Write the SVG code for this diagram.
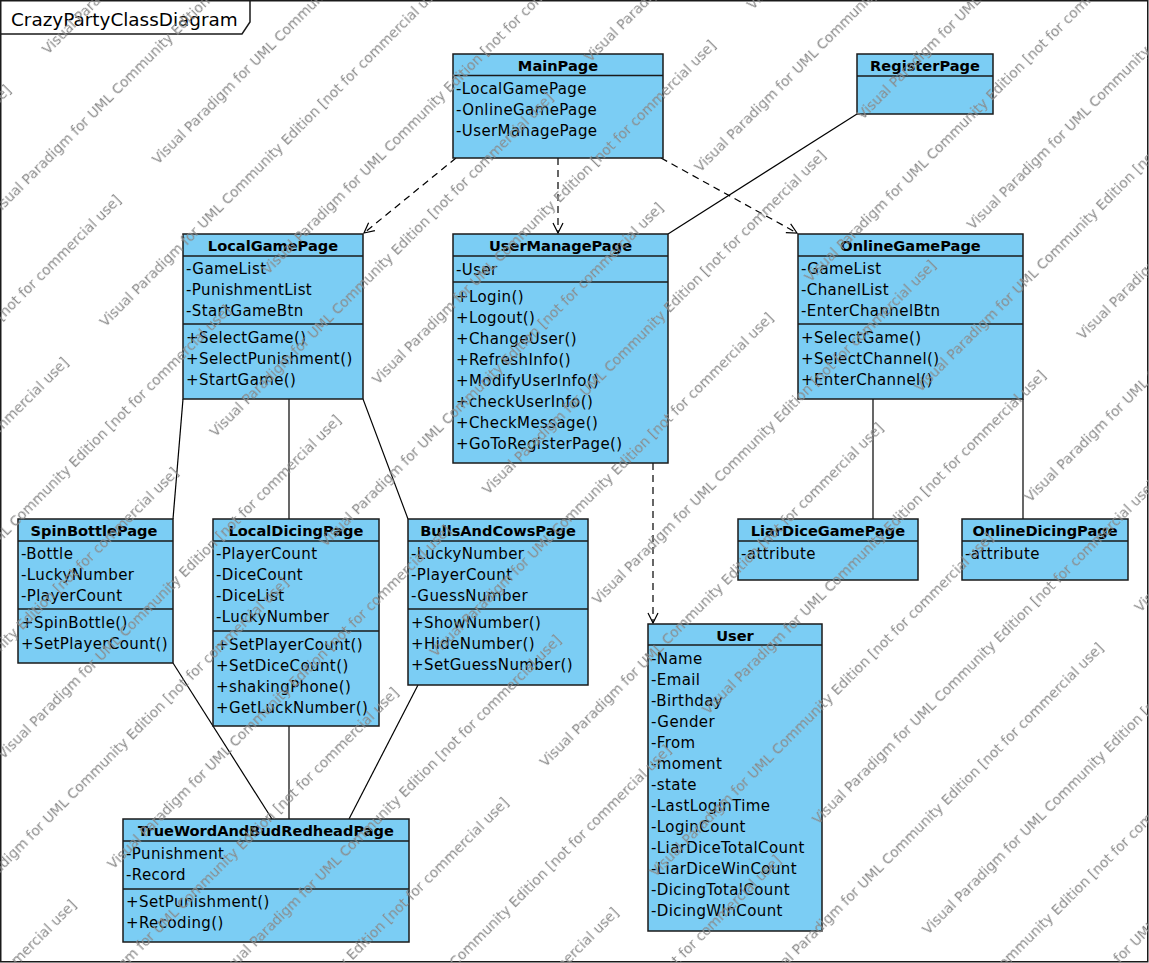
<svg xmlns="http://www.w3.org/2000/svg" width="1149" height="963" viewBox="0 0 1149 963">
<style>
.box{fill:#7bcdf4;stroke:#1a1a1a;stroke-width:1.5}
.sep{stroke:#1a1a1a;stroke-width:1.5}
.hd{font-family:"DejaVu Sans",sans-serif;font-weight:bold;font-size:14.6px;text-anchor:middle;fill:#000}
.tx{font-family:"DejaVu Sans",sans-serif;font-size:15px;letter-spacing:0.4px;fill:#000}
.ln{stroke:#000;stroke-width:1.2;fill:none}
.dash{stroke-dasharray:7 5}
.wm{font-family:"DejaVu Sans",sans-serif;font-size:13.8px;fill:#8a8a8a}
</style>
<defs>
<marker id="open" viewBox="0 0 12 12" refX="11" refY="6" markerWidth="12" markerHeight="12" markerUnits="userSpaceOnUse" orient="auto">
<path d="M1,1 L11,6 L1,11" fill="none" stroke="#000" stroke-width="1.2"/>
</marker>
<pattern id="wmp" patternUnits="userSpaceOnUse" x="-9" y="27.8" width="530" height="155.6" patternTransform="rotate(-45)">
<text class="wm" x="4" y="45">Visual Paradigm for UML Community Edition [not for commercial use]</text>
<text class="wm" x="-148" y="122.8">Visual Paradigm for UML Community Edition [not for commercial use]</text>
<text class="wm" x="382" y="122.8">Visual Paradigm for UML Community Edition [not for commercial use]</text>
</pattern>
</defs>
<rect x="0" y="0" width="1149" height="963" fill="#fff"/>
<g id="frame">
<rect x="0.75" y="0.75" width="1147" height="961" fill="none" stroke="#1a1a1a" stroke-width="1.5"/>
<path d="M0.75,0.75 H250 V22 L242,34 H0.75 Z" fill="#fff" stroke="#1a1a1a" stroke-width="1.5"/>
<text x="11" y="26" style="font-family:'DejaVu Sans',sans-serif;font-size:18.4px;fill:#000">CrazyPartyClassDiagram</text>
</g>
<g id="connectors">
<line class="ln dash" x1="456" y1="158" x2="364" y2="233" marker-end="url(#open)"/>
<line class="ln dash" x1="558" y1="158" x2="558" y2="233" marker-end="url(#open)"/>
<line class="ln dash" x1="661" y1="158" x2="797" y2="233" marker-end="url(#open)"/>
<line class="ln dash" x1="653" y1="463" x2="653" y2="623" marker-end="url(#open)"/>
<line class="ln" x1="857" y1="114" x2="668" y2="234"/>
<line class="ln" x1="183" y1="399" x2="173" y2="519"/>
<line class="ln" x1="289" y1="399" x2="289" y2="519"/>
<line class="ln" x1="363" y1="399" x2="408" y2="519"/>
<line class="ln" x1="873" y1="399" x2="873" y2="519"/>
<line class="ln" x1="1023" y1="399" x2="1023" y2="519"/>
<line class="ln" x1="173" y1="663" x2="272" y2="819"/>
<line class="ln" x1="289" y1="726" x2="289" y2="819"/>
<line class="ln" x1="418" y1="685" x2="349" y2="819"/>
</g>
<g id="MainPage">
<rect class="box" x="453" y="54" width="210" height="104"/>
<line class="sep" x1="453" y1="75.5" x2="663" y2="75.5"/>
<text class="hd" x="558" y="71">MainPage</text>
<text class="tx" x="456" y="94">-LocalGamePage</text>
<text class="tx" x="456" y="115">-OnlineGamePage</text>
<text class="tx" x="456" y="136">-UserManagePage</text>
</g>
<g id="RegisterPage">
<rect class="box" x="857" y="54" width="136" height="60"/>
<line class="sep" x1="857" y1="76" x2="993" y2="76"/>
<text class="hd" x="925" y="71">RegisterPage</text>
</g>
<g id="LocalGamePage">
<rect class="box" x="183" y="234" width="180" height="165"/>
<line class="sep" x1="183" y1="256" x2="363" y2="256"/>
<line class="sep" x1="183" y1="324" x2="363" y2="324"/>
<text class="hd" x="273" y="251">LocalGamePage</text>
<text class="tx" x="186" y="274">-GameList</text>
<text class="tx" x="186" y="295">-PunishmentList</text>
<text class="tx" x="186" y="316">-StartGameBtn</text>
<text class="tx" x="186" y="343">+SelectGame()</text>
<text class="tx" x="186" y="364">+SelectPunishment()</text>
<text class="tx" x="186" y="385">+StartGame()</text>
</g>
<g id="UserManagePage">
<rect class="box" x="453" y="234" width="215" height="229"/>
<line class="sep" x1="453" y1="256" x2="668" y2="256"/>
<line class="sep" x1="453" y1="282" x2="668" y2="282"/>
<text class="hd" x="560.5" y="251">UserManagePage</text>
<text class="tx" x="456" y="275">-User</text>
<text class="tx" x="456" y="302">+Login()</text>
<text class="tx" x="456" y="323">+Logout()</text>
<text class="tx" x="456" y="344">+ChangeUser()</text>
<text class="tx" x="456" y="365">+RefreshInfo()</text>
<text class="tx" x="456" y="386">+ModifyUserInfo()</text>
<text class="tx" x="456" y="407">+checkUserInfo()</text>
<text class="tx" x="456" y="428">+CheckMessage()</text>
<text class="tx" x="456" y="449">+GoToRegisterPage()</text>
</g>
<g id="OnlineGamePage">
<rect class="box" x="798" y="234" width="225" height="165"/>
<line class="sep" x1="798" y1="256" x2="1023" y2="256"/>
<line class="sep" x1="798" y1="324" x2="1023" y2="324"/>
<text class="hd" x="910.5" y="251">OnlineGamePage</text>
<text class="tx" x="801" y="274">-GameList</text>
<text class="tx" x="801" y="295">-ChanelList</text>
<text class="tx" x="801" y="316">-EnterChannelBtn</text>
<text class="tx" x="801" y="343">+SelectGame()</text>
<text class="tx" x="801" y="364">+SelectChannel()</text>
<text class="tx" x="801" y="385">+EnterChannel()</text>
</g>
<g id="SpinBottlePage">
<rect class="box" x="18" y="519" width="155" height="144"/>
<line class="sep" x1="18" y1="541" x2="173" y2="541"/>
<line class="sep" x1="18" y1="609" x2="173" y2="609"/>
<text class="hd" x="94" y="536">SpinBottlePage</text>
<text class="tx" x="21" y="559">-Bottle</text>
<text class="tx" x="21" y="580">-LuckyNumber</text>
<text class="tx" x="21" y="601">-PlayerCount</text>
<text class="tx" x="21" y="628">+SpinBottle()</text>
<text class="tx" x="21" y="649">+SetPlayerCount()</text>
</g>
<g id="LocalDicingPage">
<rect class="box" x="213" y="519" width="166" height="207"/>
<line class="sep" x1="213" y1="541" x2="379" y2="541"/>
<line class="sep" x1="213" y1="631" x2="379" y2="631"/>
<text class="hd" x="296" y="536">LocalDicingPage</text>
<text class="tx" x="216" y="559">-PlayerCount</text>
<text class="tx" x="216" y="580">-DiceCount</text>
<text class="tx" x="216" y="601">-DiceList</text>
<text class="tx" x="216" y="622">-LuckyNumber</text>
<text class="tx" x="216" y="650">+SetPlayerCount()</text>
<text class="tx" x="216" y="671">+SetDiceCount()</text>
<text class="tx" x="216" y="692">+shakingPhone()</text>
<text class="tx" x="216" y="713">+GetLuckNumber()</text>
</g>
<g id="BullsAndCowsPage">
<rect class="box" x="408" y="519" width="180" height="166"/>
<line class="sep" x1="408" y1="541" x2="588" y2="541"/>
<line class="sep" x1="408" y1="609" x2="588" y2="609"/>
<text class="hd" x="498" y="536">BullsAndCowsPage</text>
<text class="tx" x="411" y="559">-LuckyNumber</text>
<text class="tx" x="411" y="580">-PlayerCount</text>
<text class="tx" x="411" y="601">-GuessNumber</text>
<text class="tx" x="411" y="628">+ShowNumber()</text>
<text class="tx" x="411" y="649">+HideNumber()</text>
<text class="tx" x="411" y="670">+SetGuessNumber()</text>
</g>
<g id="LiarDiceGamePage">
<rect class="box" x="738" y="519" width="180" height="61"/>
<line class="sep" x1="738" y1="541" x2="918" y2="541"/>
<text class="hd" x="828" y="536">LiarDiceGamePage</text>
<text class="tx" x="741" y="559">-attribute</text>
</g>
<g id="OnlineDicingPage">
<rect class="box" x="962" y="519" width="166" height="61"/>
<line class="sep" x1="962" y1="541" x2="1128" y2="541"/>
<text class="hd" x="1045" y="536">OnlineDicingPage</text>
<text class="tx" x="965" y="559">-attribute</text>
</g>
<g id="User">
<rect class="box" x="648" y="624" width="174" height="307"/>
<line class="sep" x1="648" y1="645" x2="822" y2="645"/>
<text class="hd" x="735" y="641">User</text>
<text class="tx" x="651" y="664">-Name</text>
<text class="tx" x="651" y="685">-Email</text>
<text class="tx" x="651" y="706">-Birthday</text>
<text class="tx" x="651" y="727">-Gender</text>
<text class="tx" x="651" y="748">-From</text>
<text class="tx" x="651" y="769">-moment</text>
<text class="tx" x="651" y="790">-state</text>
<text class="tx" x="651" y="811">-LastLoginTime</text>
<text class="tx" x="651" y="832">-LoginCount</text>
<text class="tx" x="651" y="853">-LiarDiceTotalCount</text>
<text class="tx" x="651" y="874">-LiarDiceWinCount</text>
<text class="tx" x="651" y="895">-DicingTotalCount</text>
<text class="tx" x="651" y="916">-DicingWInCount</text>
</g>
<g id="TrueWordAndBudRedheadPage">
<rect class="box" x="123" y="819" width="286" height="123"/>
<line class="sep" x1="123" y1="841" x2="409" y2="841"/>
<line class="sep" x1="123" y1="889" x2="409" y2="889"/>
<text class="hd" x="266" y="836">TrueWordAndBudRedheadPage</text>
<text class="tx" x="126" y="859">-Punishment</text>
<text class="tx" x="126" y="880">-Record</text>
<text class="tx" x="126" y="907">+SetPunishment()</text>
<text class="tx" x="126" y="928">+Recoding()</text>
</g>
<g id="watermark">
<rect x="0" y="0" width="1149" height="963" fill="url(#wmp)"/>
</g>
</svg>
